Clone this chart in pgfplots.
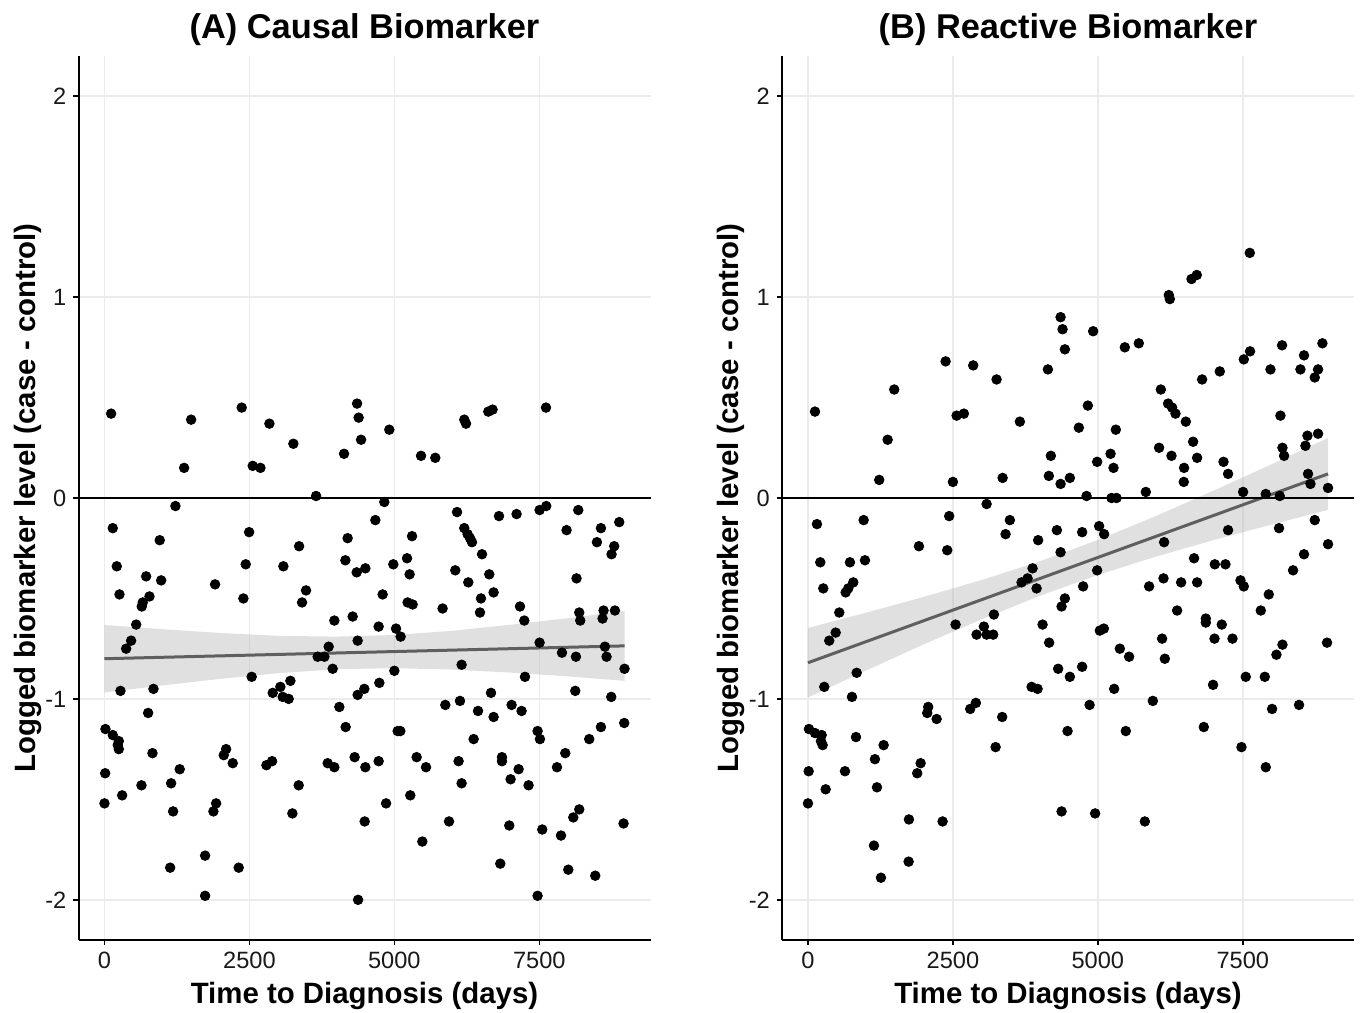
\documentclass[border=0pt]{standalone}
\usepackage{fontspec}
\setmainfont{Liberation Sans}
\usepackage{pgfplots}
\pgfplotsset{compat=1.18}

\definecolor{gridgrey}{RGB}{235,235,235}
\definecolor{fitline}{RGB}{95,95,95}
\definecolor{ticktext}{RGB}{25,25,25}

\pgfplotsset{
  panel/.style={
    scale only axis, width=286pt, height=442pt,
    anchor=south west,
    xmin=-448, xmax=9418, ymin=-2.2, ymax=2.2,
    axis x line*=bottom, axis y line*=left,
    axis line style={black, line width=1pt},
    xtick={0,2500,5000,7500}, xticklabels={0,2500,5000,7500},
    ytick={-2,-1,0,1,2}, yticklabels={-2,-1,0,1,2},
    tick align=outside, major tick length=2.6pt,
    tick style={black, line width=0.8pt},
    tick label style={font=\fontsize{11.8}{13}\selectfont, color=ticktext},
    grid=major, grid style={gridgrey, line width=0.8pt},
    clip=false,
    title style={at={(axis description cs:0.5,1.0065)}, anchor=base,
                 font=\fontsize{17.2}{20}\selectfont\bfseries},
    xlabel style={at={(axis description cs:0.5,-0.0713)}, anchor=base,
                  font=\fontsize{14.7}{17}\selectfont\bfseries},
    ylabel style={at={(axis description cs:-0.076,0.5)}, anchor=base, rotate=0,
                  font=\fontsize{14.7}{17}\selectfont\bfseries},
    xlabel={Time to Diagnosis (days)},
    ylabel={Logged biomarker level (case - control)},
  },
  pts/.style={only marks, mark=*, mark size=2.4pt, black, mark options={draw=black, fill=black}},
  band/.style={draw=none, fill=gray!60, fill opacity=0.4},
  fit/.style={fitline, line width=1.5pt, no marks},
}

\begin{document}
\begin{tikzpicture}
\useasboundingbox (0,0) rectangle (681pt,506.5pt);

% ---------------- (A) causal ----------------
\begin{axis}[panel, at={(39.25pt,36.5pt)}, title={(A) Causal Biomarker}]
\addplot[pts] coordinates {
(115,0.42) (1495,0.39) (2367,0.45) (2845,0.37) (3258,0.27) (1374,0.15) (2557,0.16) (2690,0.15)
(4357,0.47) (4384,0.40) (4426,0.29) (4132,0.22) (3650,0.01) (1224,-0.04) (143,-0.15) (953,-0.21)
(2495,-0.17) (3357,-0.24) (4194,-0.20) (212,-0.34) (719,-0.39) (978,-0.41) (2436,-0.33) (3086,-0.34)
(4155,-0.31) (4350,-0.37) (4500,-0.35) (1908,-0.43) (259,-0.48) (776,-0.49) (660,-0.52) (643,-0.54)
(2396,-0.50) (3477,-0.46) (3408,-0.52) (547,-0.63) (3965,-0.61) (4281,-0.59) (460,-0.71) (374,-0.75)
(3867,-0.74) (3677,-0.79) (3793,-0.79) (4367,-0.71)
(4913,0.34) (5460,0.21) (5706,0.20) (6206,0.39) (6236,0.37) (6620,0.43) (6694,0.44) (7615,0.45)
(4827,-0.02) (4672,-0.11) (6081,-0.07) (5305,-0.19) (6206,-0.15) (6263,-0.18) (6305,-0.20) (6339,-0.22)
(6805,-0.09) (7108,-0.08) (7505,-0.06) (7620,-0.04) (8172,-0.06) (7970,-0.16) (8563,-0.15) (8879,-0.12)
(8494,-0.22) (8792,-0.24) (8746,-0.28) (6512,-0.28) (5219,-0.30) (4982,-0.33) (5263,-0.38) (6051,-0.36)
(6637,-0.38) (6275,-0.42) (4798,-0.48) (6712,-0.47) (6494,-0.50) (5229,-0.52) (5315,-0.53) (5832,-0.55)
(6477,-0.57) (7167,-0.54) (7241,-0.61) (8142,-0.40) (8189,-0.57) (8206,-0.61) (8608,-0.56) (8591,-0.60)
(8804,-0.56) (4729,-0.64) (5029,-0.65) (5108,-0.69) (7505,-0.72) (7891,-0.77) (8132,-0.79) (8632,-0.74)
(8660,-0.79)
(3936,-0.85) (2539,-0.89) (3207,-0.91) (3034,-0.94) (2902,-0.97) (3074,-0.99) (3177,-1.00) (276,-0.96)
(845,-0.95) (4367,-0.98) (4482,-0.95) (753,-1.07) (4051,-1.04) (4160,-1.14) (17,-1.15) (143,-1.18)
(247,-1.21) (229,-1.23) (247,-1.25) (828,-1.27) (2098,-1.25) (2057,-1.28) (2212,-1.32) (2891,-1.31)
(2793,-1.33) (3850,-1.32) (3965,-1.34) (4315,-1.29) (4500,-1.34) (12,-1.37) (1298,-1.35) (638,-1.43)
(1150,-1.42) (3350,-1.43) (305,-1.48) (0,-1.52) (1184,-1.56) (1926,-1.52) (1879,-1.56) (3241,-1.57)
(4488,-1.61) (1736,-1.78) (1133,-1.84) (2315,-1.84) (1736,-1.98) (4374,-2.00)
(5000,-0.86) (6160,-0.83) (7253,-0.89) (8970,-0.85) (4741,-0.92) (6667,-0.97) (8120,-0.96) (8741,-0.99)
(5879,-1.03) (6132,-1.01) (6443,-1.06) (6712,-1.09) (7022,-1.03) (7194,-1.06) (5057,-1.16) (5103,-1.16)
(6367,-1.20) (7470,-1.16) (7511,-1.20) (8361,-1.20) (8563,-1.14) (8965,-1.12) (4729,-1.31) (5384,-1.29)
(5546,-1.34) (6108,-1.31) (6856,-1.29) (6856,-1.31) (7143,-1.35) (7005,-1.40) (7315,-1.43) (7948,-1.27)
(7805,-1.34) (6160,-1.42) (4857,-1.52) (5275,-1.48) (5943,-1.61) (6982,-1.63) (7551,-1.65) (7874,-1.68)
(8086,-1.59) (8189,-1.55) (8953,-1.62) (5482,-1.71) (6827,-1.82) (8000,-1.85) (8465,-1.88) (7470,-1.98)
};
% confidence band of the linear fit
\addplot[band] coordinates {
(0,-0.632) (1000,-0.653) (2000,-0.672) (3000,-0.686) (4000,-0.690) (5000,-0.682)
(6000,-0.661) (7000,-0.631) (8000,-0.598) (8970,-0.562)
(8970,-0.910) (8000,-0.888) (7000,-0.869) (6000,-0.854) (5000,-0.847) (4000,-0.852)
(3000,-0.872) (2000,-0.900) (1000,-0.933) (0,-0.968)
} -- cycle;
\addplot[fit] coordinates {(0,-0.800) (8970,-0.736)};
\addplot[black, line width=1pt, no marks] coordinates {(-448,0) (9418,0)};
\end{axis}

% ---------------- (B) reactive ----------------
\begin{axis}[panel, at={(391pt,36.5pt)}, title={(B) Reactive Biomarker}]
\addplot[pts] coordinates {
(4357,0.90) (4391,0.84) (4431,0.74) (4138,0.64) (2374,0.68) (2850,0.66) (3253,0.59) (1488,0.54)
(121,0.43) (2564,0.41) (2689,0.42) (3655,0.38) (1374,0.29) (4189,0.21)
(7620,1.22) (6615,1.09) (6706,1.11) (6224,1.01) (6241,0.99) (4919,0.83) (5465,0.75) (5706,0.77)
(8177,0.76) (8873,0.77) (8556,0.71) (7625,0.73) (7517,0.69) (7977,0.64) (8494,0.64) (8798,0.64)
(8741,0.60) (7103,0.63) (6798,0.59) (6086,0.54) (6212,0.47) (6281,0.45) (6339,0.42) (6517,0.38)
(4827,0.46) (4672,0.35) (5310,0.34) (8149,0.41) (6643,0.28) (6056,0.25) (5219,0.22) (6270,0.21)
(6712,0.20) (7167,0.18) (4988,0.18) (8615,0.31) (8798,0.32) (8580,0.26) (8184,0.25) (8212,0.21)
(5270,0.15) (7246,0.12) (6487,0.15) (6482,0.08) (4517,0.10) (4805,0.01) (5236,0.00) (5322,0.00)
(5827,0.03) (7505,0.03) (7896,0.02) (8137,0.01) (8625,0.12) (8667,0.07) (8970,0.05) (4729,-0.17)
(5022,-0.14) (5108,-0.18) (6143,-0.22) (7246,-0.16) (8125,-0.15) (8741,-0.11) (8970,-0.23) (4988,-0.36)
(6660,-0.30) (7017,-0.33) (7201,-0.33) (8556,-0.28) (8367,-0.36) (4746,-0.44) (5884,-0.44) (6132,-0.40)
(6436,-0.42) (6712,-0.42) (7460,-0.41) (7517,-0.44) (7948,-0.48) (7810,-0.56) (6367,-0.56) (6862,-0.60)
(6862,-0.62) (7137,-0.63) (5034,-0.66) (5103,-0.65) (6108,-0.70) (7012,-0.70) (7322,-0.70) (8184,-0.73)
(8080,-0.78) (8953,-0.72) (5379,-0.75) (5539,-0.79) (6155,-0.80) (4729,-0.84) (4517,-0.89) (7551,-0.89)
(7879,-0.89) (6987,-0.93)
(1229,0.09) (2500,0.08) (3357,0.10) (4155,0.11) (4357,0.07) (3081,-0.03) (155,-0.13) (960,-0.11)
(2436,-0.09) (3482,-0.11) (3408,-0.18) (4293,-0.16) (3970,-0.21) (1914,-0.24) (2402,-0.26) (4357,-0.27)
(212,-0.32) (724,-0.32) (983,-0.31) (264,-0.45) (781,-0.42) (695,-0.45) (650,-0.47) (3874,-0.35)
(3684,-0.42) (3788,-0.40) (3943,-0.45) (4431,-0.50) (4374,-0.54) (540,-0.57) (478,-0.67) (367,-0.71)
(2546,-0.63) (3207,-0.58) (3034,-0.64) (2908,-0.68) (3081,-0.68) (3195,-0.68) (4046,-0.63) (4160,-0.72)
(4315,-0.85) (840,-0.87)
(281,-0.94) (759,-0.99) (2074,-1.04) (2057,-1.07) (2219,-1.10) (2896,-1.02) (2798,-1.05) (3350,-1.09)
(3857,-0.94) (3960,-0.95) (4477,-1.16) (3236,-1.24) (17,-1.15) (121,-1.17) (236,-1.18) (224,-1.21)
(253,-1.23) (828,-1.19) (1305,-1.23) (1155,-1.30) (1943,-1.32) (1884,-1.37) (12,-1.36) (638,-1.36)
(305,-1.45) (1190,-1.44) (0,-1.52) (1741,-1.60) (2322,-1.61) (4374,-1.56) (1138,-1.73) (1736,-1.81)
(1259,-1.89)
(5281,-0.95) (4857,-1.03) (5948,-1.01) (8005,-1.05) (8470,-1.03) (5482,-1.16) (6827,-1.14) (7477,-1.24)
(7896,-1.34) (4953,-1.57) (5810,-1.61)
};
\addplot[band] coordinates {
(0,-0.647) (1000,-0.571) (2000,-0.492) (3000,-0.408) (4000,-0.315) (5000,-0.209)
(6000,-0.090) (7000,0.037) (8000,0.168) (8970,0.299)
(8970,-0.059) (8000,-0.132) (7000,-0.209) (6000,-0.292) (5000,-0.383) (4000,-0.487)
(3000,-0.603) (2000,-0.728) (1000,-0.859) (0,-0.993)
} -- cycle;
\addplot[fit] coordinates {(0,-0.820) (8970,0.120)};
\addplot[black, line width=1pt, no marks] coordinates {(-448,0) (9418,0)};
\end{axis}
\end{tikzpicture}
\end{document}
